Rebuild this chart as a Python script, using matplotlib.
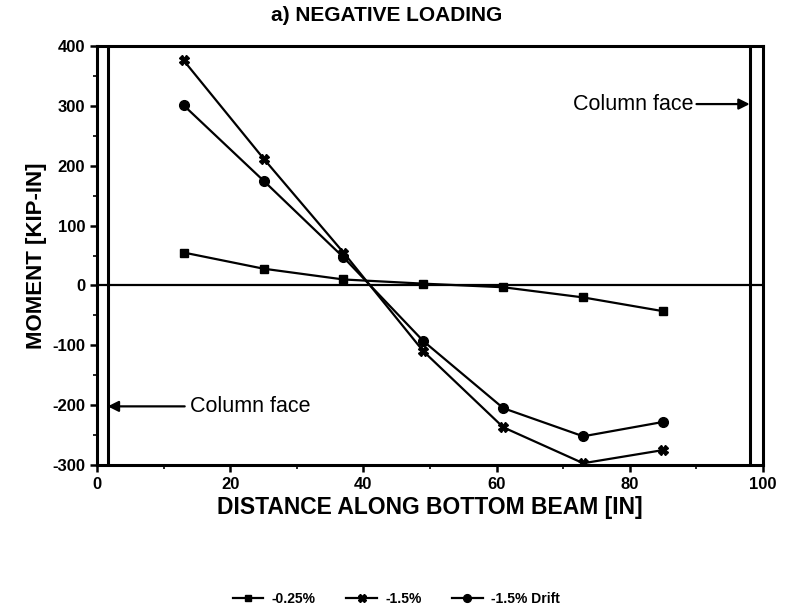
import matplotlib.pyplot as plt
import numpy as np

plt.rcParams['font.family'] = ['Liberation Sans', 'DejaVu Sans']
plt.rcParams['axes.unicode_minus'] = False

# distance along bottom beam [in] and moments [kip-in]
distance = [13, 25, 37, 49, 61, 73, 85]
m_025 = [55, 28, 10, 3, -3, -20, -43]
m_15 = [376, 212, 55, -110, -237, -297, -275]
m_15_drift = [301, 175, 47, -93, -205, -252, -228]
series_labels = ['-0.25%', '-1.5%', '-1.5% Drift']
x_ticks = [0, 20, 40, 60, 80, 100]
y_ticks = [-300, -200, -100, 0, 100, 200, 300, 400]
face_left, face_right = 1.6, 98.0

fig = plt.figure(figsize=(7.85, 6.11), dpi=100)
ax = fig.add_axes([0.1236, 0.2389, 0.8484, 0.6858])

ax.plot(distance, m_025, color='black', lw=1.6, marker='s', ms=6, label=series_labels[0])
ax.plot(distance, m_15, color='black', lw=1.6, marker='X', ms=7, label=series_labels[1])
ax.plot(distance, m_15_drift, color='black', lw=1.6, marker='o', ms=7, label=series_labels[2])

ax.axhline(0, color='black', lw=1.6)
ax.axvline(face_left, color='black', lw=2.2)
ax.axvline(face_right, color='black', lw=2.2)

ax.set_xlim(0, 100)
ax.set_ylim(-300, 400)
ax.set_xticks(x_ticks)
ax.set_yticks(y_ticks)
ax.set_xticks(np.arange(0, 101, 10), minor=True)
ax.set_yticks(np.arange(-300, 401, 50), minor=True)
ax.tick_params(which='major', direction='out', length=5, width=1.8, labelsize=12)
ax.tick_params(which='minor', direction='out', length=3, width=1.2)
for lab in ax.get_xticklabels() + ax.get_yticklabels():
    lab.set_fontweight('bold')
for s in ax.spines.values():
    s.set_linewidth(2.2)

fig.text(0.492, 0.975, 'a) NEGATIVE LOADING', fontsize=15, fontweight='bold',
         ha='center', va='center')
ax.set_xlabel('DISTANCE ALONG BOTTOM BEAM [IN]', fontsize=16.5, fontweight='bold', labelpad=3)
ax.set_ylabel('MOMENT [KIP-IN]', fontsize=16, fontweight='bold', labelpad=4)

ax.annotate('Column face', xy=(face_right, 303), xytext=(71.5, 303),
            fontsize=15.5, va='center', ha='left',
            arrowprops=dict(arrowstyle='-|>', color='black', lw=1.6, mutation_scale=16,
                            shrinkA=0, shrinkB=0, relpos=(1, 0.5)))
ax.annotate('Column face', xy=(face_left, -202), xytext=(14, -202),
            fontsize=15.5, va='center', ha='left',
            arrowprops=dict(arrowstyle='-|>', color='black', lw=1.6, mutation_scale=16,
                            shrinkA=2, shrinkB=0, relpos=(0, 0.5)))

leg = fig.legend(loc='lower center', bbox_to_anchor=(0.505, -0.012), ncol=3, frameon=False,
                 fontsize=10, handlelength=2.2, columnspacing=2.2, handletextpad=0.6,
                 markerscale=0.8)
for t in leg.get_texts():
    t.set_fontweight('bold')

fig.savefig('out.png', dpi=100, facecolor='white')
